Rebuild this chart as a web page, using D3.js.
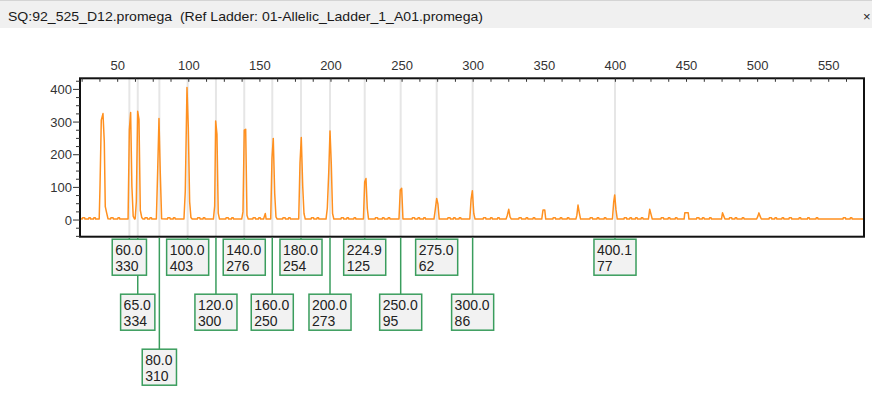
<!DOCTYPE html>
<html><head><meta charset="utf-8">
<script src="https://cdn.jsdelivr.net/npm/d3@7"></script>
<style>html,body{margin:0;padding:0;background:#fff;} svg{display:block;}</style>
</head><body><svg id="c" width="872" height="404"></svg>
<script>
// ---------- data ----------
const titleText = "SQ:92_525_D12.promega  (Ref Ladder: 01-Allelic_Ladder_1_A01.promega)";
const xTickValues = [50, 100, 150, 200, 250, 300, 350, 400, 450, 500, 550];
const yTickValues = [0, 100, 200, 300, 400];
const xDomain = [23.5, 574.8];
const yDomain = [-51, 434];

// ladder peaks: position on the axis (bp), called size label, height label
const ladderPos = [58.2, 64.1, 79.3, 99.2, 119.1, 139.0, 158.7, 178.9, 199.3, 223.7, 249.0, 274.3, 299.6, 399.7];
const ladderSize = ["60.0", "65.0", "80.0", "100.0", "120.0", "140.0", "160.0", "180.0", "200.0", "224.9", "250.0", "275.0", "300.0", "400.1"];
const ladderHeight = ["330", "334", "310", "403", "300", "276", "250", "254", "273", "125", "95", "62", "86", "77"];

// electropherogram trace samples [bp, rfu]
const trace = [
  [23.5, 4],
  [37.0, 3], [37.55, 98], [38.47, 306], [39.66, 326], [40.58, 240], [41.28, 41], [42.27, 21], [43.2, 4],
  [57.3, 3], [58.2, 277], [59.1, 329], [60.0, 102], [60.9, 12], [61.9, 3],
  [62.3, 4], [63.1, 56], [64.06, 333], [64.98, 308], [65.9, 30], [66.9, 8], [67.8, 3],
  [77.2, 3], [78.13, 153], [79.04, 311], [79.96, 143], [80.9, 4],
  [96.6, 3], [97.54, 89], [98.73, 406], [99.65, 285], [100.6, 56], [101.5, 8], [102.4, 3],
  [117.3, 3], [118.2, 43], [118.9, 303], [119.8, 263], [120.7, 21], [121.6, 3],
  [137.2, 3], [138.1, 25], [139.0, 275], [140.0, 278], [140.9, 15], [141.8, 3],
  [152.6, 3], [153.2, 12], [153.8, 20], [154.4, 3],
  [157.6, 3], [158.5, 189], [159.4, 250], [160.4, 82], [161.3, 10], [162.2, 3],
  [177.3, 3], [178.2, 175], [179.1, 253], [180.1, 104], [181.0, 20], [181.9, 3],
  [196.5, 3], [197.4, 36], [198.4, 145], [199.3, 273], [200.2, 172], [201.1, 20], [202.0, 3],
  [222.8, 3], [223.7, 117], [224.6, 127], [225.5, 36], [226.4, 3],
  [247.8, 3], [248.7, 92], [249.7, 97], [250.6, 3],
  [272.4, 3], [273.3, 31], [274.3, 66], [275.2, 49], [276.1, 3],
  [297.6, 3], [298.5, 63], [299.4, 90], [300.4, 20], [301.3, 3],
  [323.1, 3], [324.0, 15], [325.0, 33], [325.9, 10], [326.8, 3],
  [348.2, 3], [349.1, 31], [350.3, 31], [351.0, 3],
  [372.2, 3], [372.9, 15], [373.7, 46], [374.6, 22], [375.5, 3],
  [397.9, 3], [398.8, 56], [399.5, 77], [400.4, 31], [401.3, 3],
  [423.2, 3], [424.1, 33], [425.0, 18], [425.9, 3],
  [448.3, 3], [448.8, 22], [451.2, 22], [451.7, 3],
  [474.6, 3], [475.3, 22], [476.2, 12], [477.0, 3],
  [499.3, 3], [500.2, 12], [500.9, 22], [501.7, 12], [502.6, 3],
  [574.8, 3]
];
// small baseline noise plateaus [startBp, endBp] at noiseLevel rfu
const noiseLevel = 7;
const baseLevel = 3;
const noise = [
  [25,27],[29.5,31],[33,34.5],[45,47],[50,51.5],[69,71],[72.5,74],[85,87],[89,90.5],[106,108],[110,111.5],
  [126,128],[130,131.5],[145,147],[149,150.5],[166,168],[170,171.5],[186,188],[190,191.5],[207,209],
  [211,212.5],[216,217.5],[231,233],[236,237.5],[240,241.5],[257,259],[261,262.5],[265,266.5],[282,284],
  [286,287.5],[290,291.5],[307,309],[312,313.5],[317,318.5],[332,334],[337,338.5],[342,343.5],[356,358],
  [361,362.5],[366,367.5],[382,384],[387,388.5],[392,393.5],[406,408],[410,411.5],[414,415.5],[418,419.5],
  [432,434],[437,438.5],[442,443.5],[457,459],[461,462.5],[466,467.5],[480,482],[484,485.5],[489,490.5],
  [508,510],[512,513.5],[517,518.5],[522,524],[529,530.5],[535,536.5],[541,542.5],[560,562],[565,566.5]
];

// ---------- layout ----------
const svg = d3.select("#c");
const W = 872, H = 404;
const plot = {left: 80, right: 864, top: 78.3, bottom: 236.7};
const x = d3.scaleLinear().domain(xDomain).range([plot.left, plot.right]);
const y = d3.scaleLinear().domain(yDomain).range([plot.bottom, plot.top]);
const FONT = "'Liberation Sans', Arial, sans-serif";

// header bar
svg.append("rect").attr("x", 0).attr("y", 0).attr("width", W).attr("height", 28).attr("fill", "#f0f0f0");
svg.append("line").attr("x1", 0).attr("x2", W).attr("y1", 0.5).attr("y2", 0.5).attr("stroke", "#d4d4d4");
svg.append("text").attr("x", 8).attr("y", 21)
  .attr("font-family", FONT).attr("font-size", 13.5).attr("fill", "#1a1a1a")
  .attr("textLength", 475).attr("lengthAdjust", "spacingAndGlyphs")
  .style("white-space", "pre").text(titleText);
svg.append("text").attr("x", 863).attr("y", 21).attr("font-family", FONT).attr("font-size", 13)
  .attr("fill", "#222").text("×");

// clip
svg.append("defs").append("clipPath").attr("id", "clip").append("rect")
  .attr("x", plot.left).attr("y", plot.top).attr("width", plot.right - plot.left).attr("height", plot.bottom - plot.top);

// gray ladder guide lines
svg.append("g").selectAll("line").data(ladderPos).join("line")
  .attr("x1", d => x(d)).attr("x2", d => x(d))
  .attr("y1", plot.top).attr("y2", plot.bottom)
  .attr("stroke", "#e6e6e6").attr("stroke-width", 2);

// trace
const pts = trace.slice();
noise.forEach(([a, b]) => {
  pts.push([a, baseLevel], [a + 0.25, noiseLevel], [b - 0.25, noiseLevel], [b, baseLevel]);
});
pts.sort((p, q) => p[0] - q[0]);
const line = d3.line().x(d => x(d[0])).y(d => y(d[1]));
svg.append("path").datum(pts).attr("clip-path", "url(#clip)")
  .attr("d", line).attr("fill", "none").attr("stroke", "#ff901f")
  .attr("stroke-width", 1.5).attr("stroke-linejoin", "round");

// frame
svg.append("rect").attr("x", plot.left).attr("y", plot.top)
  .attr("width", plot.right - plot.left).attr("height", plot.bottom - plot.top)
  .attr("fill", "none").attr("stroke", "#111").attr("stroke-width", 2);

// top axis (ticks inward)
const minorX = d3.range(25, 575, 12.5).filter(v => v >= xDomain[0] && v <= xDomain[1]);
svg.append("g").selectAll("line").data(minorX).join("line")
  .attr("x1", d => x(d)).attr("x2", d => x(d))
  .attr("y1", plot.top).attr("y2", plot.top + 3.5)
  .attr("stroke", "#333").attr("stroke-width", 1);
svg.append("g").selectAll("text").data(xTickValues).join("text")
  .attr("x", d => x(d)).attr("y", 69.5).attr("text-anchor", "middle")
  .attr("font-family", FONT).attr("font-size", 13).attr("fill", "#333").text(d => d);

// left axis (ticks outward)
const minorY = d3.range(-50, 434, 25).filter(v => v > yDomain[0] && v < yDomain[1]);
svg.append("g").selectAll("line").data(minorY).join("line")
  .attr("x1", d => plot.left - (d % 100 === 0 ? 7 : 4)).attr("x2", plot.left)
  .attr("y1", d => y(d)).attr("y2", d => y(d))
  .attr("stroke", "#333").attr("stroke-width", 1);
svg.append("g").selectAll("text").data(yTickValues).join("text")
  .attr("x", 72).attr("y", d => y(d)).attr("dy", "0.36em").attr("text-anchor", "end")
  .attr("font-family", FONT).attr("font-size", 13).attr("fill", "#333").text(d => d);

// ladder label boxes (greedy row placement)
const GREEN = "#3a9d5d";
const rowTop0 = plot.bottom + 2.5, rowStep = 55, boxH = 36;
const measure = svg.append("text").attr("font-family", FONT).attr("font-size", 14).attr("visibility", "hidden");
const labels = ladderPos.map((p, i) => {
  measure.text(ladderSize[i]);
  const w1 = measure.node().getComputedTextLength();
  measure.text(ladderHeight[i]);
  const w2 = measure.node().getComputedTextLength();
  const w = Math.max(w1, w2) + 7;
  return {cx: x(p), w, size: ladderSize[i], h: ladderHeight[i]};
});
measure.remove();
const rowEnds = [];
labels.forEach(l => {
  const left = l.cx - l.w / 2;
  let r = 0;
  while (rowEnds[r] !== undefined && rowEnds[r] + 2 > left) r++;
  rowEnds[r] = left + l.w;
  l.row = r;
});
const lg = svg.append("g");
lg.selectAll("line").data(labels).join("line")
  .attr("x1", d => d.cx).attr("x2", d => d.cx)
  .attr("y1", plot.bottom + 1).attr("y2", d => rowTop0 + d.row * rowStep)
  .attr("stroke", GREEN).attr("stroke-width", 1.5);
const bg = lg.selectAll("g.box").data(labels).join("g").attr("class", "box");
bg.append("rect")
  .attr("x", d => d.cx - d.w / 2).attr("y", d => rowTop0 + d.row * rowStep)
  .attr("width", d => d.w).attr("height", boxH)
  .attr("fill", "#f2f2f2").attr("stroke", GREEN).attr("stroke-width", 1.5);
bg.append("text")
  .attr("x", d => d.cx - d.w / 2 + 3).attr("y", d => rowTop0 + d.row * rowStep + 16)
  .attr("font-family", FONT).attr("font-size", 14).attr("fill", "#222").text(d => d.size);
bg.append("text")
  .attr("x", d => d.cx - d.w / 2 + 3).attr("y", d => rowTop0 + d.row * rowStep + 31.5)
  .attr("font-family", FONT).attr("font-size", 14).attr("fill", "#222").text(d => d.h);
</script>
</body></html>
